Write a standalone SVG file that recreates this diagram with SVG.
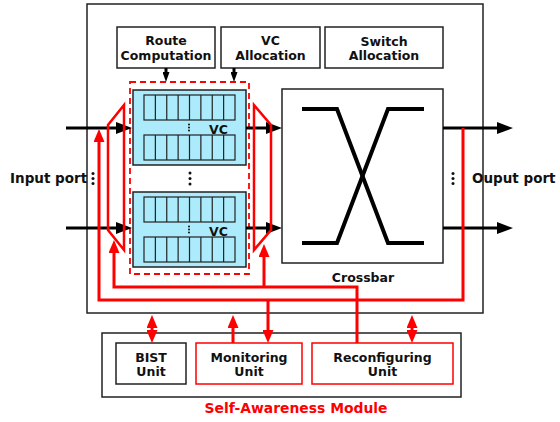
<svg xmlns="http://www.w3.org/2000/svg" xmlns:xlink="http://www.w3.org/1999/xlink" width="560" height="422" viewBox="0 0 560 422">
<style>
text{font-family:"DejaVu Sans","Liberation Sans",sans-serif;font-weight:bold;font-size:12.5px;fill:#111}
.big{font-size:13.5px}
.box{fill:#fff;stroke:#222;stroke-width:1.5}
.rbox{fill:#fff;stroke:#f00;stroke-width:1.5}
.buf{fill:#abebfb;stroke:#222;stroke-width:1.5}
.cell{fill:none;stroke:#222;stroke-width:1.2}
.blk{fill:none;stroke:#000;stroke-width:3}
.red{fill:none;stroke:#f00;stroke-width:3}
.mux{fill:none;stroke:#f00;stroke-width:2.5;stroke-linejoin:miter}
.dot{fill:#111}
</style>
<defs>
<marker id="ah" markerUnits="userSpaceOnUse" markerWidth="16" markerHeight="12" refX="6" refY="6" orient="auto"><path d="M0,0 L16,6 L0,12 z" fill="#000"/></marker>
<marker id="ahs" markerUnits="userSpaceOnUse" markerWidth="10" markerHeight="7" refX="4" refY="3.5" orient="auto"><path d="M0,0 L10,3.5 L0,7 z" fill="#000"/></marker>
<marker id="rh" markerUnits="userSpaceOnUse" markerWidth="13" markerHeight="11" refX="4" refY="5.5" orient="auto-start-reverse"><path d="M0,0 L13,5.5 L0,11 z" fill="#f00"/></marker>
<g id="row">
<rect x="0" y="0" width="91" height="25" class="cell"/>
<path class="cell" d="M11.375,0v25M22.75,0v25M34.125,0v25M45.5,0v25M56.875,0v25M68.25,0v25M79.625,0v25"/>
</g>
</defs>

<g id="router">
<rect x="87" y="4" width="396" height="309" class="box"/>
</g>

<g id="route-computation">
<rect x="117" y="27" width="98" height="41" class="box"/>
<text x="166" y="44.5" text-anchor="middle">Route</text>
<text x="166" y="59.5" text-anchor="middle">Computation</text>
</g>
<g id="vc-allocation">
<rect x="221" y="27" width="99" height="41" class="box"/>
<text x="270.5" y="44.5" text-anchor="middle">VC</text>
<text x="270.5" y="59.5" text-anchor="middle">Allocation</text>
</g>
<g id="switch-allocation">
<rect x="325" y="27" width="118" height="41" class="box"/>
<text x="384" y="45.5" text-anchor="middle">Switch</text>
<text x="384" y="60" text-anchor="middle">Allocation</text>
</g>

<g id="input-buffers">
<rect x="130" y="82" width="119" height="192" fill="none" stroke="#f00" stroke-width="1.8" stroke-dasharray="6,4"/>
<g id="vc-buffer-1">
<rect x="133" y="90" width="113" height="75" class="buf"/>
<use xlink:href="#row" href="#row" x="144" y="95"/>
<use xlink:href="#row" href="#row" x="144" y="135"/>
<circle class="dot" cx="189" cy="124.5" r="1"/><circle class="dot" cx="189" cy="127.5" r="1"/><circle class="dot" cx="189" cy="130.5" r="1"/>
<text x="209" y="133.5">VC</text>
</g>
<g id="vc-buffer-2">
<rect x="133" y="192" width="113" height="75" class="buf"/>
<use xlink:href="#row" href="#row" x="144" y="197"/>
<use xlink:href="#row" href="#row" x="144" y="237"/>
<circle class="dot" cx="189" cy="226.5" r="1"/><circle class="dot" cx="189" cy="229.5" r="1"/><circle class="dot" cx="189" cy="232.5" r="1"/>
<text x="209" y="235.5">VC</text>
</g>
<circle class="dot" cx="190" cy="173" r="1.5"/><circle class="dot" cx="190" cy="178.5" r="1.5"/><circle class="dot" cx="190" cy="184" r="1.5"/>
</g>

<g id="crossbar">
<rect x="282" y="89" width="161" height="174" class="box"/>
<polyline points="302,109 337,109 388,243 424,243" fill="none" stroke="#000" stroke-width="4"/>
<polyline points="302,243 337,243 388,109 424,109" fill="none" stroke="#000" stroke-width="4"/>
<text x="363" y="281.5" text-anchor="middle">Crossbar</text>
</g>

<g id="input-port">
<text class="big" x="10" y="183">Input port</text>
<circle class="dot" cx="93" cy="173.5" r="1.5"/><circle class="dot" cx="93" cy="178.5" r="1.5"/><circle class="dot" cx="93" cy="183.5" r="1.5"/>
</g>
<g id="output-port">
<text class="big" x="472" y="183">Ouput port</text>
<circle class="dot" cx="453" cy="173.5" r="1.5"/><circle class="dot" cx="453" cy="178.5" r="1.5"/><circle class="dot" cx="453" cy="183.5" r="1.5"/>
</g>

<g id="self-awareness-module">
<rect x="102" y="333" width="359" height="64" class="box"/>
<text x="296" y="412.5" text-anchor="middle" style="fill:#f00;font-size:13.9px">Self-Awareness Module</text>
</g>
<g id="bist-unit">
<rect x="116" y="343" width="70" height="41" class="box"/>
<text x="151" y="361.5" text-anchor="middle">BIST</text>
<text x="151" y="376" text-anchor="middle">Unit</text>
</g>
<g id="monitoring-unit">
<rect x="196" y="343" width="106" height="41" class="rbox"/>
<text x="249" y="361.5" text-anchor="middle">Monitoring</text>
<text x="249" y="376" text-anchor="middle">Unit</text>
</g>
<g id="reconfiguring-unit">
<rect x="312" y="343" width="141" height="41" class="rbox"/>
<text x="382.5" y="361.5" text-anchor="middle">Reconfiguring</text>
<text x="382.5" y="376" text-anchor="middle">Unit</text>
</g>

<g id="connectors">
<path class="blk" stroke-width="2" d="M166,68 V76" marker-end="url(#ahs)"/>
<path class="blk" stroke-width="2" d="M234,68 V76" marker-end="url(#ahs)"/>
<path class="blk" d="M66,128 H122" marker-end="url(#ah)"/>
<path class="blk" d="M66,228 H122" marker-end="url(#ah)"/>
<path class="blk" d="M246,128 H272" marker-end="url(#ah)"/>
<path class="blk" d="M246,228 H272" marker-end="url(#ah)"/>
<path class="blk" d="M443,128 H503" marker-end="url(#ah)"/>
<path class="blk" d="M443,228 H503" marker-end="url(#ah)"/>

<polygon class="mux" points="124,105 108,125 108,230 124,250"/>
<polygon class="mux" points="254,105 271,125 271,230 254,250"/>

<path class="red" d="M463,128 V300 H99 V138" marker-end="url(#rh)"/>
<path class="red" d="M357,343 V287 H114 V249" marker-end="url(#rh)"/>
<path class="red" d="M264,287 V253" marker-end="url(#rh)"/>
<path class="red" d="M268,300 V334" marker-end="url(#rh)"/>
<path class="red" d="M152,324 V334" marker-start="url(#rh)" marker-end="url(#rh)"/>
<path class="red" d="M233,343 V324" marker-end="url(#rh)"/>
<path class="red" d="M412,324 V334" marker-start="url(#rh)" marker-end="url(#rh)"/>
</g>
</svg>
